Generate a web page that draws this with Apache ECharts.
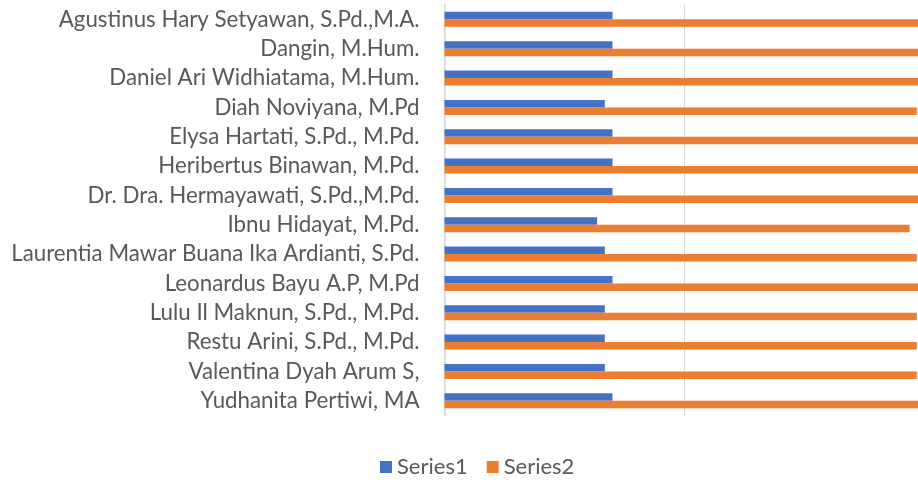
<!DOCTYPE html>
<html>
<head>
<meta charset="utf-8">
<script src="https://cdn.jsdelivr.net/npm/echarts@6/dist/echarts.min.js"></script>
<style>
html,body{margin:0;padding:0;background:#fff;}
#c{width:918px;height:484px;}
</style>
</head>
<body>
<div id="c"></div>
<script>
const categories = [
  "Agustinus Hary Setyawan, S.Pd.,M.A.",
  "Dangin, M.Hum.",
  "Daniel Ari Widhiatama, M.Hum.",
  "Diah Noviyana, M.Pd",
  "Elysa Hartati, S.Pd., M.Pd.",
  "Heribertus Binawan, M.Pd.",
  "Dr. Dra. Hermayawati, S.Pd.,M.Pd.",
  "Ibnu Hidayat, M.Pd.",
  "Laurentia Mawar Buana Ika Ardianti, S.Pd.",
  "Leonardus Bayu A.P, M.Pd",
  "Lulu Il Maknun, S.Pd., M.Pd.",
  "Restu Arini, S.Pd., M.Pd.",
  "Valentina Dyah Arum S,",
  "Yudhanita Pertiwi, MA"
];
const series1 = [35, 35, 35, 33.4, 35, 35, 35, 31.8, 33.4, 35, 33.4, 33.4, 33.4, 35];
const series2 = [100, 100, 100, 98.4, 100, 100, 100, 96.9, 98.4, 100, 98.4, 98.4, 98.4, 100];
const seriesNames = ["Series1", "Series2"];
const xTicks = {min: 0, max: 100, interval: 50};

const font = "Lato";
const chart = echarts.init(document.getElementById('c'), null, {renderer: 'canvas'});
chart.setOption({
  animation: false,
  color: ['#4472C4', '#ED7D31'],
  grid: {left: 444.5, width: 480, top: 4.7, height: 410.7, containLabel: false, outerBoundsMode: 'none'},
  legend: {
    data: seriesNames,
    top: 456,
    left: 380,
    padding: 0,
    icon: 'rect',
    itemWidth: 12,
    itemHeight: 12,
    itemGap: 19,
    textStyle: {color: '#595959', fontSize: 22, fontFamily: font}
  },
  xAxis: {
    type: 'value',
    min: xTicks.min, max: xTicks.max, interval: xTicks.interval,
    axisLabel: {show: false},
    axisLine: {show: false},
    axisTick: {show: false},
    splitLine: {show: true, lineStyle: {color: '#d9d9d9', width: 1}}
  },
  yAxis: {
    type: 'category',
    data: categories,
    inverse: true,
    axisLine: {show: true, lineStyle: {color: '#d9d9d9', width: 1.5}},
    axisTick: {show: false},
    axisLabel: {color: '#595959', fontSize: 22.3, fontFamily: font, margin: 25}
  },
  series: [
    {name: seriesNames[0], type: 'bar', data: series1, barWidth: 7.5, barGap: '0%'},
    {name: seriesNames[1], type: 'bar', data: series2, barWidth: 7.5, barGap: '0%'}
  ]
});
</script>
</body>
</html>
